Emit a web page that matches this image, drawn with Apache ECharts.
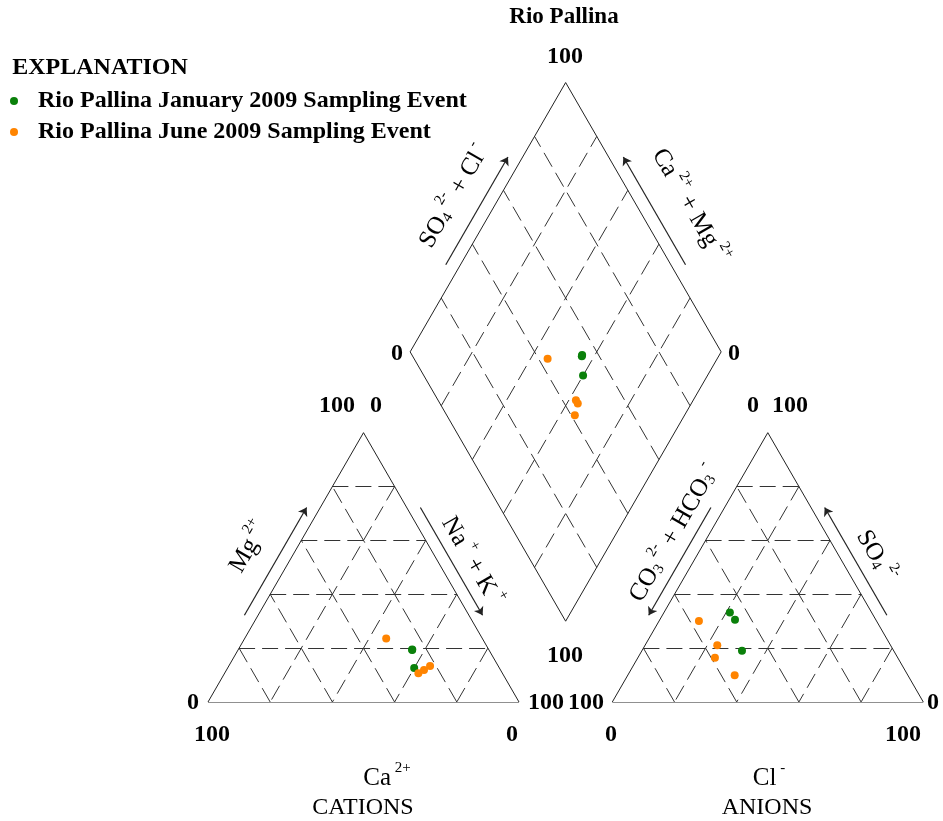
<!DOCTYPE html>
<html>
<head>
<meta charset="utf-8">
<script src="https://cdn.jsdelivr.net/npm/echarts@6/dist/echarts.min.js"></script>
<style>html,body{margin:0;padding:0;background:#fff}#chart{width:943px;height:821px}</style>
</head>
<body>
<div id="chart"></div>
<script>
// ---------------- DATA (percent of meq/L) ----------------
const seriesNames = ['Rio Pallina January 2009 Sampling Event', 'Rio Pallina June 2009 Sampling Event'];
// January 2009 samples
const janCa   = [24.7, 24.6, 27.4];
const janMg   = [19.3, 19.5, 12.6];
const janNaK  = [56.0, 55.9, 60.0];
const janHCO3 = [45.6, 45.3, 48.8];
const janCl   = [21.2, 24.2, 32.2];
const janSO4  = [33.2, 30.5, 19.0];
// June 2009 samples
const junCa   = [30.9, 27.0, 24.6, 21.9];
const junMg   = [23.6, 10.7, 11.9, 13.4];
const junNaK  = [45.5, 62.3, 63.5, 64.7];
const junHCO3 = [57.1, 55.7, 55.7, 58.8];
const junCl   = [12.8, 23.2, 34.4, 24.8];
const junSO4  = [30.1, 21.1,  9.9, 16.4];
// grid ticks (percent)
const gridTicks = [20, 40, 60, 80];

// ---------------- GEOMETRY (abstract units) ----------------
const SIN60 = Math.sqrt(3) / 2;
const TRI = 100, GAP = 30;
const cL = [0, 0], cR = [TRI, 0], cT = [TRI / 2, TRI * SIN60];
const aL = [TRI + GAP, 0], aR = [2 * TRI + GAP, 0], aT = [TRI + GAP + TRI / 2, TRI * SIN60];
const dB = [TRI + GAP / 2, GAP * SIN60];
const dL = [dB[0] - TRI / 2, dB[1] + TRI * SIN60];
const dR = [dB[0] + TRI / 2, dB[1] + TRI * SIN60];
const dT = [dB[0], dB[1] + 2 * TRI * SIN60];

function lerp(P, Q, f) { return [P[0] + (Q[0] - P[0]) * f, P[1] + (Q[1] - P[1]) * f]; }
function cationXY(ca, mg, nak) { return [cL[0] + nak + mg / 2, cL[1] + mg * SIN60]; }
function anionXY(hco3, cl, so4) { return [aL[0] + cl + so4 / 2, aL[1] + so4 * SIN60]; }
function diamondXY(camg, so4cl) { return [dB[0] + (so4cl - camg) / 2, dB[1] + (so4cl + camg) * SIN60]; }

function buildPoints(ca, mg, nak, hco3, cl, so4) {
  const pts = [];
  for (let i = 0; i < ca.length; i++) {
    pts.push(cationXY(ca[i], mg[i], nak[i]));
    pts.push(anionXY(hco3[i], cl[i], so4[i]));
    pts.push(diamondXY(ca[i] + mg[i], so4[i] + cl[i]));
  }
  return pts;
}

function triGrid(A, B, C) {
  const segs = [];
  [[A, B, C], [B, C, A], [C, A, B]].forEach(([V, W1, W2]) => {
    gridTicks.forEach(t => segs.push([lerp(V, W1, t / 100), lerp(V, W2, t / 100)]));
  });
  return segs;
}
function diamondGrid() {
  const segs = [];
  gridTicks.forEach(t => {
    segs.push([lerp(dB, dR, t / 100), lerp(dL, dT, t / 100)]);
    segs.push([lerp(dB, dL, t / 100), lerp(dR, dT, t / 100)]);
  });
  return segs;
}
const outlineSegs = [
  [cL, cR], [cR, cT], [cT, cL],
  [aL, aR], [aR, aT], [aT, aL],
  [dB, dR], [dR, dT], [dT, dL], [dL, dB]
];
function edgeArrow(P, Q, centroid, off) {
  const len = Math.hypot(Q[0] - P[0], Q[1] - P[1]);
  const d = [(Q[0] - P[0]) / len, (Q[1] - P[1]) / len];
  let n = [-d[1], d[0]];
  if (n[0] * (centroid[0] - P[0]) + n[1] * (centroid[1] - P[1]) > 0) n = [-n[0], -n[1]];
  const s = lerp(P, Q, 0.3), e = lerp(P, Q, 0.7);
  return [[s[0] + n[0] * off, s[1] + n[1] * off], [e[0] + n[0] * off, e[1] + n[1] * off]];
}
const cC = [(cL[0] + cR[0] + cT[0]) / 3, (cL[1] + cR[1] + cT[1]) / 3];
const aC = [(aL[0] + aR[0] + aT[0]) / 3, (aL[1] + aR[1] + aT[1]) / 3];
const dC = [dB[0], (dB[1] + dT[1]) / 2];
const arrowSegs = [
  edgeArrow(cL, cT, cC, 3.8), edgeArrow(cT, cR, cC, 3.8), edgeArrow(cR, cL, cC, 3.7),
  edgeArrow(aT, aL, aC, 3.8), edgeArrow(aR, aT, aC, 3.8), edgeArrow(aL, aR, aC, 3.7),
  edgeArrow(dL, dT, dC, 4.1), edgeArrow(dR, dT, dC, 4.1)
];

const gridSegs = triGrid(cL, cR, cT).concat(triGrid(aL, aR, aT), diamondGrid());

// ---------------- TEXT ----------------
const FONT = 'Liberation Serif, Times New Roman, serif';
const richStyles = {
  n: { fontFamily: FONT, fontSize: 25, fill: '#000', lineHeight: 30, verticalAlign: 'bottom' },
  sup: { fontFamily: FONT, fontSize: 15, fill: '#000', lineHeight: 30, verticalAlign: 'top' },
  sub: { fontFamily: FONT, fontSize: 15, fill: '#000', lineHeight: 30, verticalAlign: 'bottom' }
};
function txt(text, x, y, opts) {
  opts = opts || {};
  return {
    type: 'text', x: x, y: y, rotation: opts.rot || 0, silent: true,
    style: {
      text: text, fill: '#000', fontFamily: FONT,
      fontSize: opts.size || 24, fontWeight: opts.weight || 'bold',
      align: 'center', verticalAlign: 'middle', textAlign: 'center', textVerticalAlign: 'middle',
      rich: richStyles
    }
  };
}
const R60 = Math.PI / 3;
const texts = [
  txt('Rio Pallina', 564, 17, { size: 23 }),
  txt('EXPLANATION', 100, 68, { size: 24 }),
  txt('100', 565, 57), txt('0', 397, 354), txt('0', 734, 354), txt('100', 565, 656),
  txt('100', 337, 406), txt('0', 376, 406), txt('0', 753, 406), txt('100', 790, 406),
  txt('0', 193, 703), txt('100', 546, 703), txt('100', 586, 703), txt('0', 933, 703),
  txt('100', 212, 735), txt('0', 512, 735), txt('0', 611, 735), txt('100', 903, 735),
  txt('CATIONS', 363, 808, { weight: 'normal' }), txt('ANIONS', 767, 808, { weight: 'normal' }),
  txt('{n|Ca}{sup| 2+}', 387, 776, { weight: 'normal' }),
  txt('{n|Cl}{sup| -}', 769, 776, { weight: 'normal' }),
  txt('{n|Mg}{sup| 2+}', 247, 546, { weight: 'normal', rot: R60 }),
  txt('{n|Na}{sup| +}{n| + K}{sup| +}', 474, 560, { weight: 'normal', rot: -R60 }),
  txt('{n|SO}{sub|4}{sup| 2-}{n| + Cl}{sup| -}', 452, 195, { weight: 'normal', rot: R60 }),
  txt('{n|Ca}{sup| 2+}{n| + Mg}{sup| 2+}', 692, 205, { weight: 'normal', rot: -R60 }),
  txt('{n|CO}{sub|3}{sup| 2-}{n| + HCO}{sub|3}{sup| -}', 672, 532, { weight: 'normal', rot: R60 }),
  txt('{n|SO}{sub|4}{sup| 2-}', 878, 555, { weight: 'normal', rot: -R60 })
];

// ---------------- CHART ----------------
const chart = echarts.init(document.getElementById('chart'), null, { renderer: 'canvas' });
chart.setOption({
  animation: false,
  backgroundColor: '#fff',
  grid: { left: 208, top: 80, width: 715.3, height: 622, containLabel: false },
  xAxis: { type: 'value', min: 0, max: 2 * TRI + GAP, show: false },
  yAxis: { type: 'value', min: 0, max: 200, show: false },
  legend: {
    orient: 'vertical', left: 5, top: 84, itemGap: 7,
    itemWidth: 26, itemHeight: 8, icon: 'circle',
    textStyle: { fontFamily: FONT, fontWeight: 'bold', fontSize: 24, color: '#000', lineHeight: 24, padding: [0, 0, 0, 6] },
    data: seriesNames
  },
  graphic: { elements: texts },
  series: [
    {
      type: 'lines', coordinateSystem: 'cartesian2d', silent: true, z: 1,
      lineStyle: { color: '#333', width: 1, type: [16, 7], opacity: 1 },
      data: gridSegs.map(s => ({ coords: s }))
    },
    {
      type: 'lines', coordinateSystem: 'cartesian2d', silent: true, z: 2,
      lineStyle: { color: '#222', width: 1, opacity: 1 },
      data: outlineSegs.map(s => ({ coords: s }))
    },
    {
      type: 'lines', coordinateSystem: 'cartesian2d', silent: true, z: 2,
      symbol: ['none', 'arrow'], symbolSize: 8,
      lineStyle: { color: '#222', width: 1.2, opacity: 1 },
      data: arrowSegs.map(s => ({ coords: s }))
    },
    {
      name: seriesNames[0], type: 'scatter', z: 5, symbol: 'circle', symbolSize: 8,
      itemStyle: { color: '#0a800a', opacity: 1 },
      data: buildPoints(janCa, janMg, janNaK, janHCO3, janCl, janSO4)
    },
    {
      name: seriesNames[1], type: 'scatter', z: 5, symbol: 'circle', symbolSize: 8,
      itemStyle: { color: '#ff8400', opacity: 1 },
      data: buildPoints(junCa, junMg, junNaK, junHCO3, junCl, junSO4)
    }
  ]
});
</script>
</body>
</html>
